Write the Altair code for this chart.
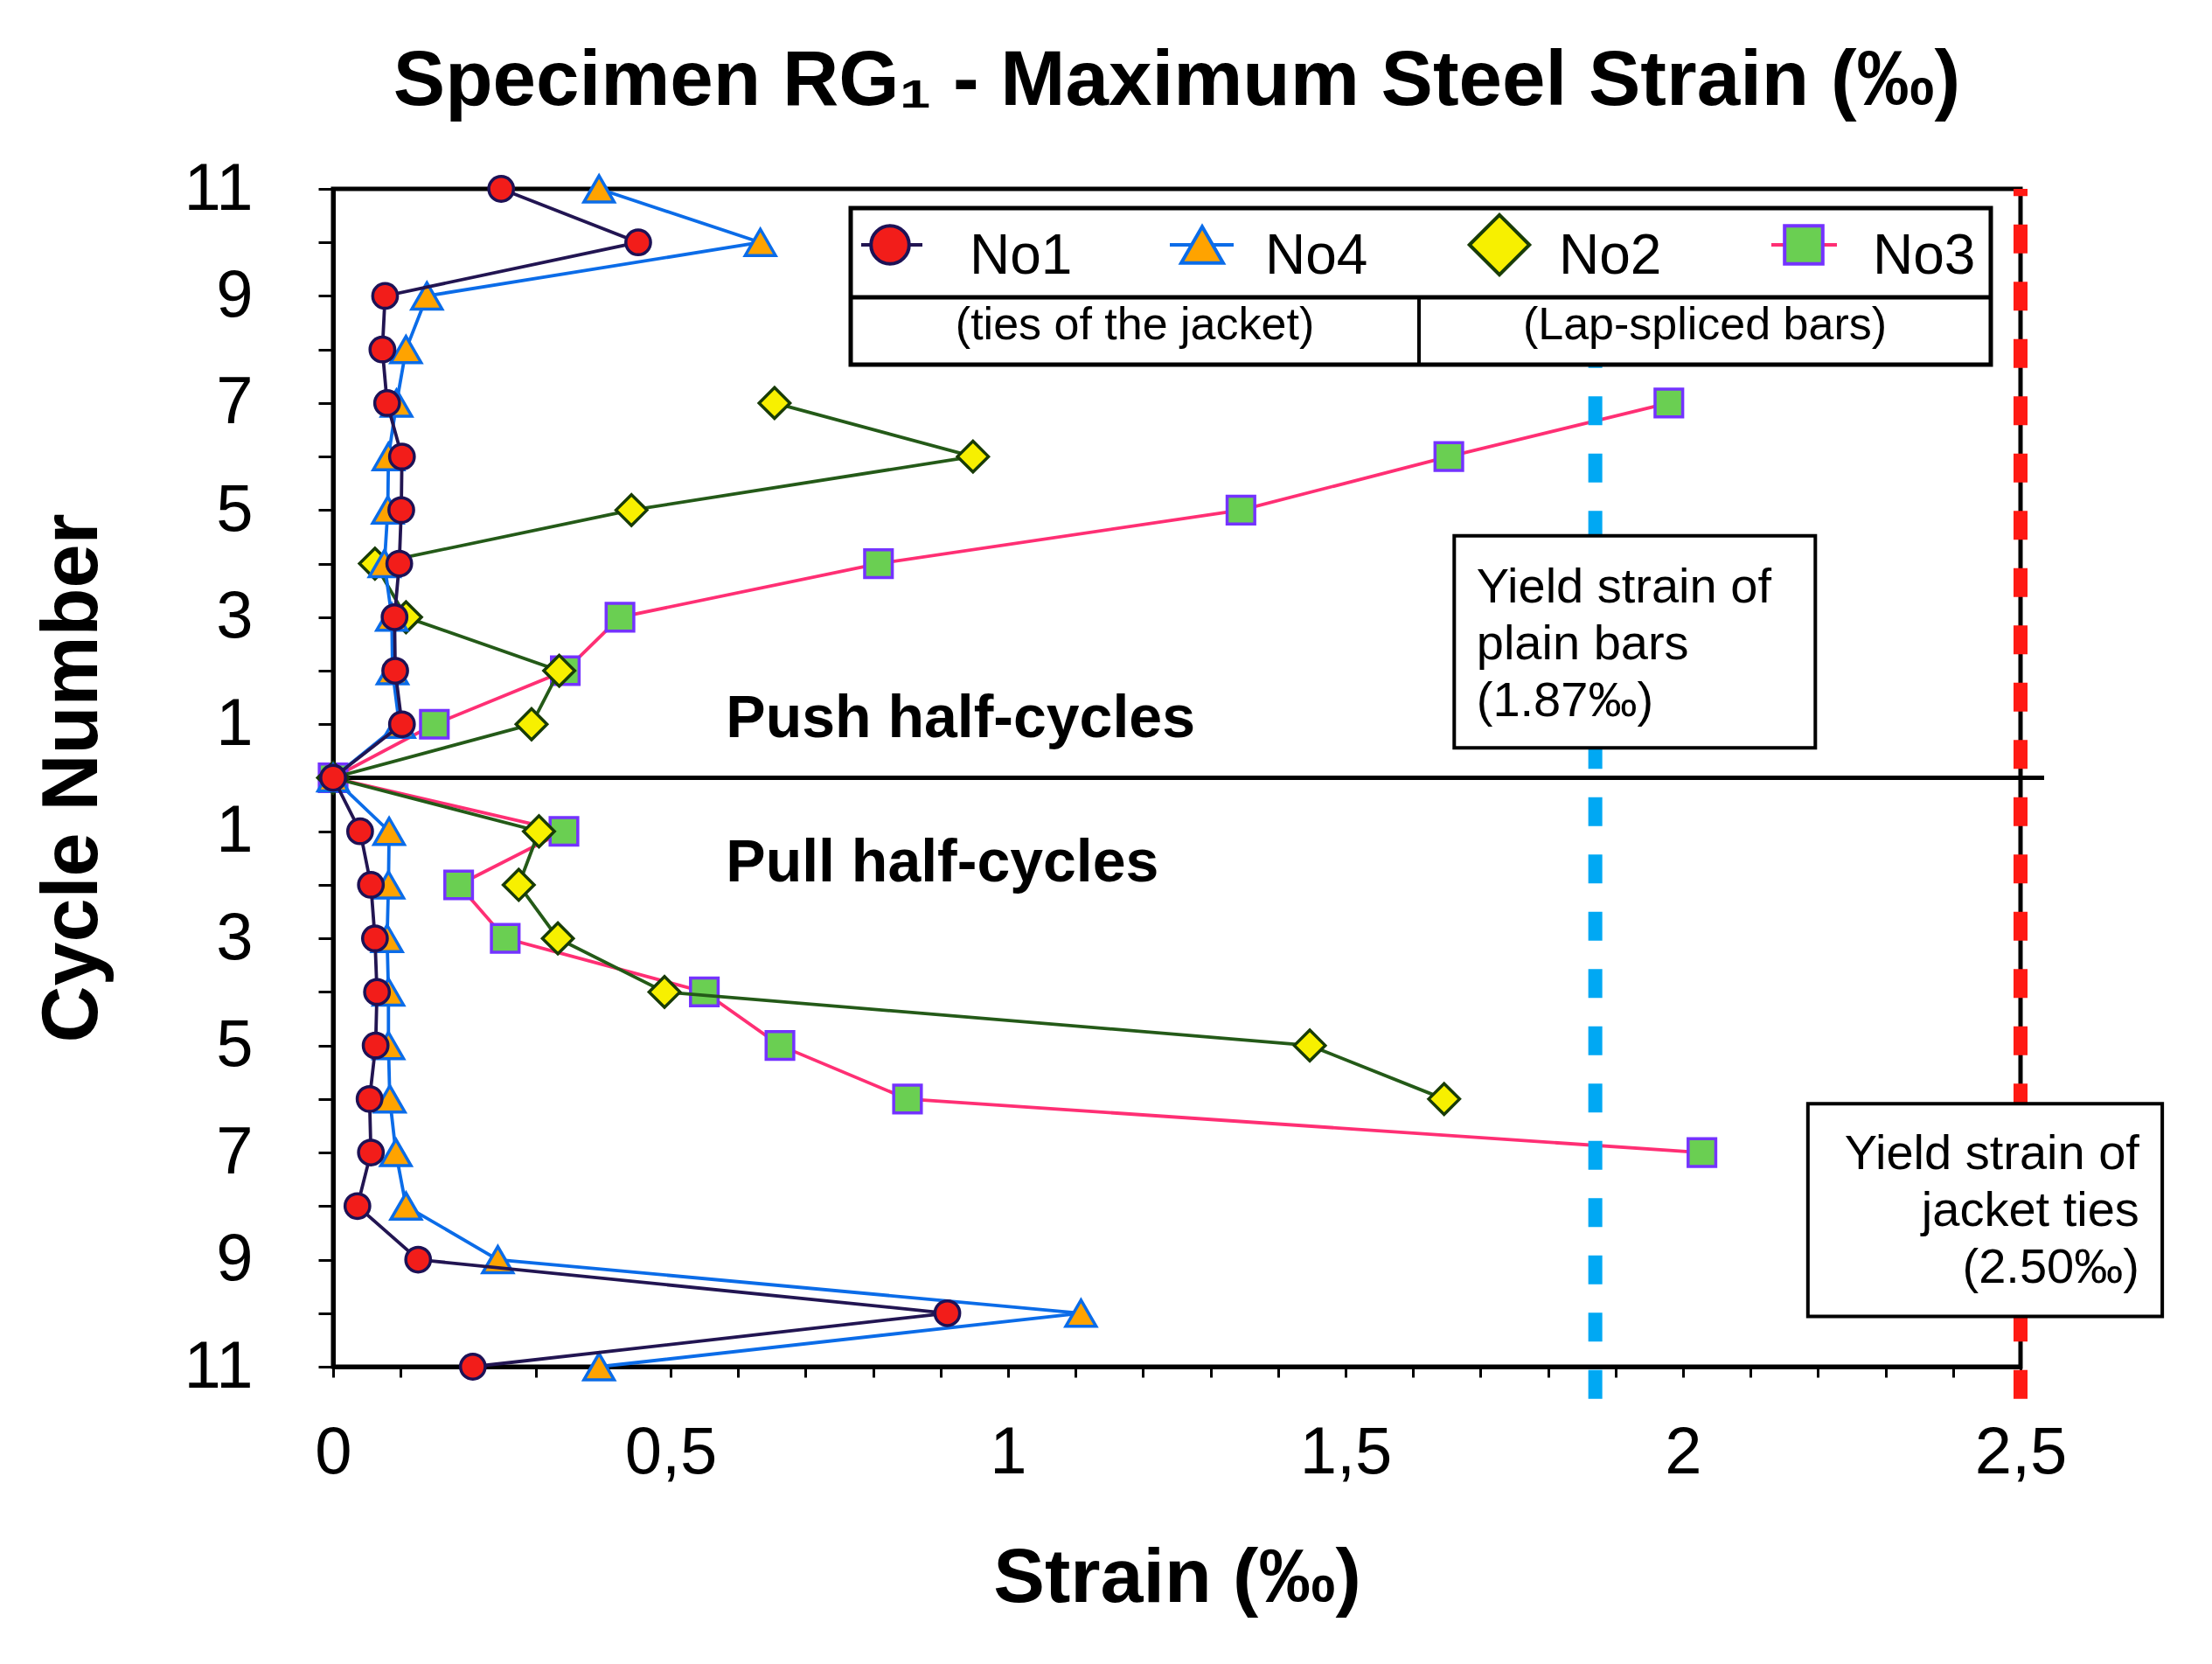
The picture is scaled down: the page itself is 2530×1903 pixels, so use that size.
import altair as alt
import pandas as pd

FONT = "Liberation Sans"

# ---------------- data ----------------
cycles = list(range(1, 12))

no1_push = [0.102, 0.092, 0.091, 0.098, 0.101, 0.102, 0.080, 0.073, 0.077, 0.452, 0.249]
no1_pull = [0.040, 0.056, 0.062, 0.065, 0.063, 0.054, 0.056, 0.036, 0.126, 0.910, 0.207]
no4_push = [0.098, 0.088, 0.087, 0.076, 0.081, 0.082, 0.094, 0.108, 0.139, 0.633, 0.394]
no4_pull = [0.083, 0.082, 0.080, 0.082, 0.082, 0.084, 0.093, 0.108, 0.244, 1.108, 0.394]
no2_push = [0.294, 0.335, 0.108, 0.062, 0.442, 0.948, 0.654]
no2_pull = [0.305, 0.275, 0.333, 0.491, 1.447, 1.646]
no3_push = [0.150, 0.344, 0.425, 0.808, 1.345, 1.653, 1.979]
no3_pull = [0.342, 0.186, 0.255, 0.550, 0.662, 0.851, 2.028]

series_names = ["No1", "No4", "No2", "No3"]
series_notes = ["(ties of the jacket)", "(Lap-spliced bars)"]

yield_plain = 1.87   # plain bars
yield_ties = 2.50    # jacket ties

x_ticks = [round(i * 0.1, 1) for i in range(0, 26)]
y_ticks = list(range(-11, 12))


def build(name, push, pull):
    rows = [{"series": name, "cycle": c, "strain": v} for c, v in zip(cycles, push)]
    rows.append({"series": name, "cycle": 0, "strain": 0.0})
    rows += [{"series": name, "cycle": -c, "strain": v} for c, v in zip(cycles, pull)]
    return pd.DataFrame(rows)


df_no1 = build("No1", no1_push, no1_pull)
df_no4 = build("No4", no4_push, no4_pull)
df_no2 = build("No2", no2_push, no2_pull)
df_no3 = build("No3", no3_push, no3_pull)

# ---------------- styles ----------------
style = {
    "No1": dict(shape="circle", fill="#f21d1a", stroke="#1d1256", line="#221552", size=800, lsize=1900),
    "No4": dict(shape="triangle-up", fill="#ffa300", stroke="#0b6ce8", line="#0b6ce8", size=1200, lsize=2300),
    "No2": dict(shape="diamond", fill="#f7f000", stroke="#183c08", line="#245a18", size=1250, lsize=4700),
    "No3": dict(shape="square", fill="#6acf52", stroke="#7433ff", line="#ff2f74", size=1000, lsize=1900),
}

xs = alt.Scale(domain=[0, 2.5], nice=False, zero=False)
ys = alt.Scale(domain=[-11, 11], nice=False, zero=False)

x_axis = alt.Axis(
    title="Strain (‰)", values=x_ticks,
    labelExpr="indexof(['0','0.5','1','1.5','2','2.5'], toString(datum.value)) >= 0 ? replace(toString(datum.value), '.', ',') : ''",
    labelFlush=False, labelOverlap=False, grid=False,
    tickSize=12, tickWidth=3, tickColor="black",
    domainColor="black", domainWidth=5,
    labelFont=FONT, labelFontSize=76, labelColor="black", labelPadding=49,
    titleFont=FONT, titleFontSize=88, titleFontWeight="bold", titleColor="black", titlePadding=62,
)
y_axis = alt.Axis(
    title="Cycle Number", values=y_ticks,
    labelExpr="abs(datum.value) % 2 == 1 ? toString(abs(datum.value)) : ''",
    labelFlush=False, labelOverlap=False, grid=False,
    tickSize=17, tickWidth=3, tickColor="black",
    domainColor="black", domainWidth=5,
    labelFont=FONT, labelFontSize=76, labelColor="black", labelPadding=75,
    titleFont=FONT, titleFontSize=90, titleFontWeight="bold", titleColor="black", titlePadding=81,
)


def XD(v):
    return alt.XDatum(v, type="quantitative", scale=xs, axis=x_axis)


def YD(v):
    return alt.YDatum(v, type="quantitative", scale=ys, axis=y_axis)


one = pd.DataFrame({"k": [0]})

# ---------------- reference lines & notes ----------------
zero_line = alt.Chart(one).mark_rule(color="black", strokeWidth=5).encode(
    x=XD(0), x2=alt.X2Datum(2.535), y=YD(0),
)
blue_line = alt.Chart(one).mark_rule(color="#00a8f3", strokeWidth=16, strokeDash=[33, 32.5]).encode(
    x=XD(yield_plain), y=YD(-11.6), y2=alt.Y2Datum(8.0),
)
red_line = alt.Chart(one).mark_rule(color="#ff1a14", strokeWidth=16, strokeDash=[33, 32.5]).encode(
    x=XD(yield_ties), y=YD(-11.6), y2=alt.Y2Datum(11.0),
)

box_plain = alt.Chart(one).mark_rect(fill="white", stroke="black", strokeWidth=4).encode(
    x=XD(1.661), x2=alt.X2Datum(2.196), y=YD(4.52), y2=alt.Y2Datum(0.56),
)
text_plain = alt.Chart(one).mark_text(
    text="Yield strain of\nplain bars\n(1.87‰)", lineBreak="\n", lineHeight=65,
    align="left", baseline="alphabetic", font=FONT, fontSize=56, color="black",
).encode(x=XD(1.694), y=YD(3.28))
box_ties = alt.Chart(one).mark_rect(fill="white", stroke="black", strokeWidth=4).encode(
    x=XD(2.185), x2=alt.X2Datum(2.71), y=YD(-6.09), y2=alt.Y2Datum(-10.06),
)
text_ties = alt.Chart(one).mark_text(
    text="Yield strain of\njacket ties\n(2.50‰)", lineBreak="\n", lineHeight=65,
    align="right", baseline="alphabetic", font=FONT, fontSize=56, color="black",
).encode(x=XD(2.676), y=YD(-7.31))

push_text = alt.Chart(one).mark_text(
    text="Push half-cycles", align="left", baseline="alphabetic",
    font=FONT, fontSize=68, fontWeight="bold", color="black",
).encode(x=XD(0.582), y=YD(0.76))
pull_text = alt.Chart(one).mark_text(
    text="Pull half-cycles", align="left", baseline="alphabetic",
    font=FONT, fontSize=68, fontWeight="bold", color="black",
).encode(x=XD(0.582), y=YD(-1.93))

# ---------------- data series ----------------
xenc = alt.X("strain:Q", scale=xs, axis=x_axis)
yenc = alt.Y("cycle:Q", scale=ys, axis=y_axis)


def series_layers(df, name):
    st = style[name]
    line = alt.Chart(df).mark_line(color=st["line"], strokeWidth=3.8).encode(
        x=xenc, y=yenc, order=alt.Order("cycle:Q", sort="descending"),
    )
    pts = alt.Chart(df).mark_point(
        shape=st["shape"], filled=True, fill=st["fill"], stroke=st["stroke"],
        strokeWidth=3.5, size=st["size"], opacity=1,
    ).encode(x=xenc, y=yenc)
    return [line, pts]


no3_layers = series_layers(df_no3, "No3")
other_layers = (
    series_layers(df_no2, "No2")
    + series_layers(df_no4, "No4")
    + series_layers(df_no1, "No1")
)

# ---------------- legend (hand-drawn box) ----------------
legend_box = alt.Chart(one).mark_rect(fill="white", stroke="black", strokeWidth=5).encode(
    x=alt.value(592), x2=alt.value(1896), y=alt.value(22), y2=alt.value(201),
)
legend_hdiv = alt.Chart(one).mark_rule(color="black", strokeWidth=5).encode(
    x=alt.value(592), x2=alt.value(1896), y=alt.value(124),
)
legend_vdiv = alt.Chart(one).mark_rule(color="black", strokeWidth=4).encode(
    x=alt.value(1242), y=alt.value(124), y2=alt.value(201),
)

legend_sym_x = {"No1": 637, "No4": 994, "No2": 1334, "No3": 1682}
legend_txt_x = {"No1": 728, "No4": 1066, "No2": 1402, "No3": 1761}
legend_stub = {"No1": (604, 674), "No4": (957, 1030), "No3": (1645, 1720)}

legend_layers = [legend_box, legend_hdiv, legend_vdiv]
for name in series_names:
    st = style[name]
    if name in legend_stub:
        a, b = legend_stub[name]
        legend_layers.append(
            alt.Chart(one).mark_rule(color=st["line"], strokeWidth=4).encode(
                x=alt.value(a), x2=alt.value(b), y=alt.value(64)
            )
        )
    legend_layers.append(
        alt.Chart(one).mark_point(
            shape=st["shape"], filled=True, fill=st["fill"], stroke=st["stroke"],
            strokeWidth=4, size=st["lsize"], opacity=1,
        ).encode(x=alt.value(legend_sym_x[name]), y=alt.value(64))
    )
    legend_layers.append(
        alt.Chart(one).mark_text(
            text=name, align="left", baseline="alphabetic",
            font=FONT, fontSize=64, color="black",
        ).encode(x=alt.value(legend_txt_x[name]), y=alt.value(97))
    )
legend_layers.append(
    alt.Chart(one).mark_text(
        text=series_notes[0], align="center", baseline="alphabetic",
        font=FONT, fontSize=52, color="black",
    ).encode(x=alt.value(917), y=alt.value(172))
)
legend_layers.append(
    alt.Chart(one).mark_text(
        text=series_notes[1], align="center", baseline="alphabetic",
        font=FONT, fontSize=52, color="black",
    ).encode(x=alt.value(1569), y=alt.value(172))
)

chart = alt.layer(
    *no3_layers,
    zero_line, blue_line, red_line,
    box_plain, text_plain, box_ties, text_ties,
    *other_layers,
    *legend_layers,
    push_text, pull_text,
).properties(
    width=1930,
    height=1347,
    background="white",
    title=alt.Title(
        "Specimen RG₁ - Maximum Steel Strain (‰)",
        font=FONT, fontSize=89, fontWeight="bold", color="black",
        anchor="middle", offset=39,
    ),
    padding={"left": 373, "top": 208, "right": 200, "bottom": 320},
    autosize=alt.AutoSizeParams(type="none"),
).configure_view(
    stroke="black", strokeWidth=5,
)

chart.save("out.html", embed_options={"renderer": "svg", "actions": False})
